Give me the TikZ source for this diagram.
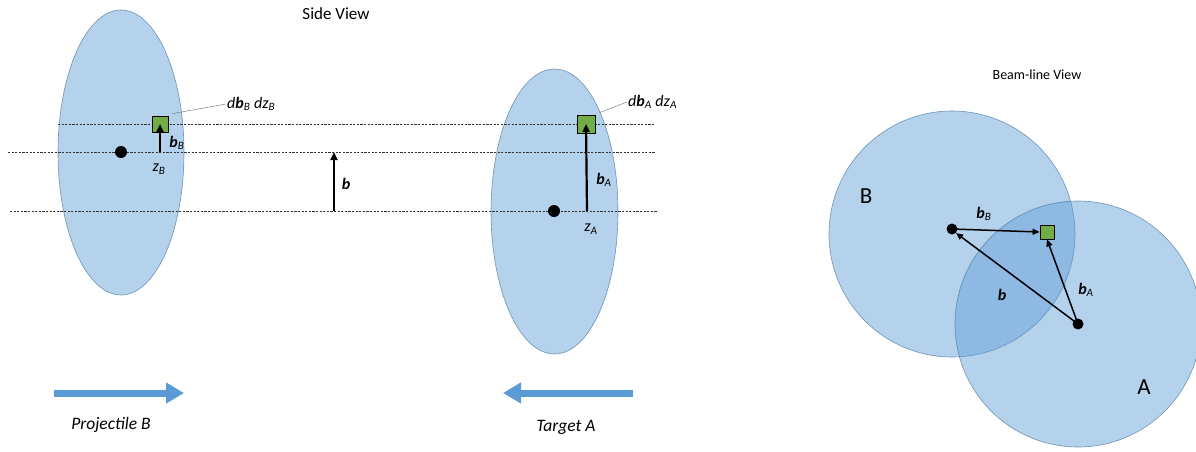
\documentclass[tikz,border=0pt]{standalone}
\usepackage{fontspec}
\setmainfont{Carlito}
\usetikzlibrary{arrows.meta}
\definecolor{blu}{HTML}{5B9BD5}
\definecolor{bluedge}{HTML}{41719C}
\definecolor{grn}{HTML}{70AD47}
\newcommand{\myb}[1]{\textbf{\textit{b}}\textsubscript{\textit{#1}}}
\tikzset{
  disk/.style={fill=blu,fill opacity=0.45,draw=bluedge,draw opacity=0.7,line width=0.6pt},
  guide/.style={dash pattern=on 2.2pt off 1.4pt,line width=0.7pt,black!80},
  dot/.style={circle,fill=black,inner sep=0pt,minimum size=12pt},
  elem/.style={rectangle,fill=grn,draw=black,line width=0.8pt,inner sep=0pt,minimum size=16pt},
  belem/.style={rectangle,fill=grn,draw=black,line width=0.8pt,inner sep=0pt,minimum size=14pt},
  vec/.style={line width=2.2pt,-{Triangle[length=8pt,width=7pt]}},
  bvec/.style={line width=1.5pt,-{Triangle[length=7pt,width=6pt]}},
  bigarrow/.style={line width=7pt,draw=blu,-{Triangle[length=18pt,width=20pt]}},
  leader/.style={gray,line width=0.5pt},
  lbl/.style={font=\fontsize{16}{18}\selectfont,inner sep=1pt},
  ttl/.style={font=\fontsize{17}{19}\selectfont}
}
\begin{document}
\begin{tikzpicture}[x=1pt,y=-1pt]
\useasboundingbox (0,0) rectangle (1196,451);
% side view ellipses
\draw[disk] (121,152.5) ellipse [x radius=63,y radius=142.5];
\draw[disk] (554.5,211.5) ellipse [x radius=63.5,y radius=142.5];
% guide lines
\coordinate (g1a) at (58,124); \coordinate (g1b) at (655,124);
\coordinate (g2a) at (8,152); \coordinate (g2b) at (655,152);
\coordinate (g3a) at (10,211); \coordinate (g3b) at (658,211);
\draw[guide] (g1a) -- (g1b);
\draw[guide] (g2a) -- (g2b);
\draw[guide] (g3a) -- (g3b);
% dots
\node[dot] (dB) at (121,152) {};
\node[dot] (dA) at (554,211) {};
% elements
\node[elem] (eB) at (160,124) {};
\node[elem,minimum size=18pt] (eA) at (586,124) {};
% vectors
\coordinate (sB) at (160,152);
\coordinate (sA) at (587,211);
\draw[vec] (sB) -- (eB.center);
\draw[vec] (sA) -- (eA.center);
\coordinate (m1) at (334,211); \coordinate (m2) at (334,152);
\draw[vec] (m1) -- (m2);
% labels
\node[lbl] (lbB) at (177,143) {\myb{B}};
\node[lbl] (lzB) at (159,169) {\textit{z}\textsubscript{\textit{B}}};
\node[lbl] (lb) at (346,184) {\textbf{\textit{b}}};
\node[lbl] (lbA) at (604,180) {\myb{A}};
\node[lbl] (lzA) at (591,229) {\textit{z}\textsubscript{\textit{A}}};
\node[lbl,anchor=west] (dB1) at (226,104) {\textit{d}\myb{B} \textit{dz}\textsubscript{\textit{B}}};
\node[lbl,anchor=west] (dA1) at (627,102) {\textit{d}\myb{A} \textit{dz}\textsubscript{\textit{A}}};
\draw[leader] (eB.north east) ++(4,-2) -- (dB1.west);
\draw[leader] (eA.north east) ++(4,-2) -- (dA1.west);
\node[ttl] (sv) at (336,14) {Side View};
% bottom arrows
\coordinate (pa1) at (54,393); \coordinate (pa2) at (184,393);
\coordinate (ta1) at (633,393); \coordinate (ta2) at (503,393);
\draw[bigarrow] (pa1) -- (pa2);
\draw[bigarrow] (ta1) -- (ta2);
\node[lbl,font=\fontsize{17.5}{19}\selectfont\itshape] (pB) at (111,425) {Projectile B};
\node[lbl,font=\fontsize{17.5}{19}\selectfont\itshape] (tA) at (566,427) {Target A};
% beam-line view
\node[ttl,font=\fontsize{14}{16}\selectfont] (bv) at (1037,75) {Beam-line View};
\draw[disk] (952,234) circle [radius=123];
\draw[disk] (1078,324) circle [radius=123];
\node[font=\fontsize{23}{25}\selectfont] (B) at (866,196) {B};
\node[font=\fontsize{23}{25}\selectfont] (A) at (1144,387) {A};
\node[dot,minimum size=11pt] (cB) at (952,229) {};
\node[dot,minimum size=11pt] (cA) at (1078,324) {};
\node[belem] (sq) at (1047,232) {};
\draw[bvec] (cB.center) -- (sq.west);
\draw[bvec] (cA.center) -- (sq.south);
\draw[bvec] (cA.center) -- (cB.south east);
\node[lbl] (rbB) at (984,214) {\myb{B}};
\node[lbl] (rb) at (1002,295) {\textbf{\textit{b}}};
\node[lbl] (rbA) at (1086,290) {\myb{A}};
\end{tikzpicture}
\end{document}
